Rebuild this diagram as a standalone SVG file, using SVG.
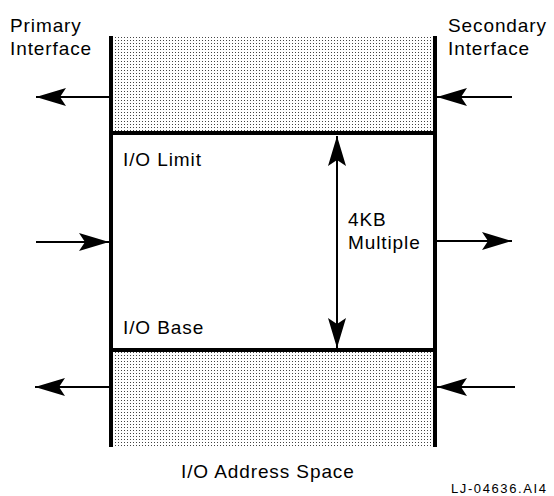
<svg xmlns="http://www.w3.org/2000/svg" width="554" height="496" viewBox="0 0 554 496">
<style>
  text { font-family: "Liberation Sans", Arial, sans-serif; font-size: 19px; letter-spacing: 0.9px; fill: #000; }
  .small { font-size: 13px; letter-spacing: 1.6px; }
  .wall { stroke: #000; stroke-width: 4; fill: none; }
  .conn { stroke: #000; stroke-width: 2; fill: none; marker-end: url(#ah); }
  .both { marker-start: url(#ahs); }
</style>
<defs>
  <pattern id="stip" width="3" height="3" patternUnits="userSpaceOnUse">
    <rect width="3" height="3" fill="#fff"/>
    <rect x="1" y="1" width="1" height="1" fill="#444"/>
  </pattern>
  <marker id="ah" markerWidth="32" markerHeight="20" refX="30" refY="10" orient="auto" markerUnits="userSpaceOnUse" overflow="visible">
    <path d="M30,10 L0,1 L6,10 L0,19 Z" fill="#000"/>
  </marker>
  <marker id="ahs" markerWidth="32" markerHeight="20" refX="0" refY="10" orient="auto" markerUnits="userSpaceOnUse" overflow="visible">
    <path d="M0,10 L30,1 L24,10 L30,19 Z" fill="#000"/>
  </marker>
</defs>

<g id="top-region">
  <rect x="113" y="36" width="320" height="95" fill="url(#stip)"/>
</g>
<g id="bottom-region">
  <rect x="113" y="352" width="320" height="95" fill="url(#stip)"/>
</g>
<g id="walls">
  <line class="wall" x1="111" y1="36" x2="111" y2="447"/>
  <line class="wall" x1="435" y1="36" x2="435" y2="447"/>
  <line class="wall" x1="109" y1="133" x2="437" y2="133"/>
  <line class="wall" x1="109" y1="350" x2="437" y2="350"/>
</g>

<g id="connectors">
  <line class="conn" x1="109" y1="97" x2="36" y2="97"/>
  <line class="conn" x1="512" y1="97" x2="437" y2="97"/>
  <line class="conn" x1="36" y1="242" x2="109" y2="242"/>
  <line class="conn" x1="437" y1="241" x2="512" y2="241"/>
  <line class="conn" x1="109" y1="387" x2="35" y2="387"/>
  <line class="conn" x1="515" y1="387" x2="437" y2="387"/>
  <line class="conn both" x1="337" y1="136" x2="337" y2="348"/>
</g>

<g id="labels">
  <text x="10" y="32">Primary</text>
  <text x="10" y="55">Interface</text>
  <text x="448" y="32">Secondary</text>
  <text x="448" y="55">Interface</text>
  <text x="123" y="166">I/O Limit</text>
  <text x="348" y="226">4KB</text>
  <text x="348" y="249">Multiple</text>
  <text x="123" y="334">I/O Base</text>
  <text x="181" y="478">I/O Address Space</text>
  <text class="small" x="451" y="493">LJ-04636.AI4</text>
</g>
</svg>
